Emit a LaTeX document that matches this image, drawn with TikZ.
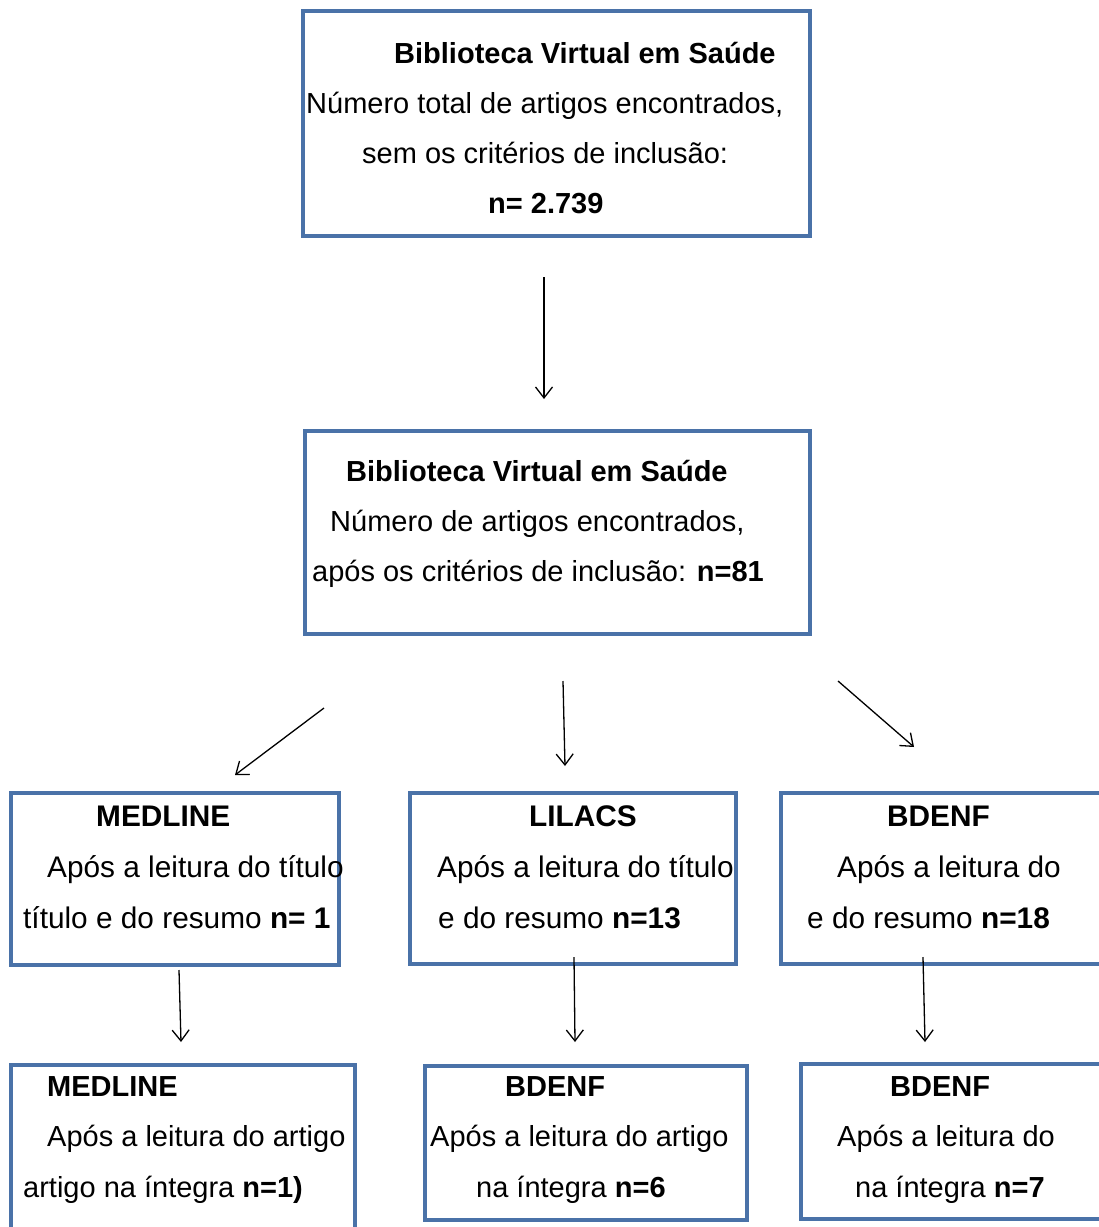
\documentclass[tikz,border=0pt]{standalone}
\usepackage{fontspec}
\setmainfont{Liberation Sans}
\usetikzlibrary{arrows.meta}
\definecolor{boxblue}{RGB}{74,114,168}
\begin{document}
\begin{tikzpicture}[x=1pt,y=-1pt,
  box/.style={draw=boxblue, line width=3.2pt, inner sep=0pt, fill=none},
  txt/.style={anchor=base west, inner sep=0pt, font=\fontsize{29}{35}\selectfont},
  txtb/.style={anchor=base west, inner sep=0pt, font=\fontsize{29.8}{35}\selectfont},
  conn/.style={line width=1.3pt, -{Straight Barb[length=11pt,width=17pt,line width=1.3pt]}}]
\useasboundingbox (0,0) rectangle (1099,1227);
\clip (0,0) rectangle (1099,1227);
\fill[white] (0,0) rectangle (1099,1227);

% boxes
\node[box, minimum width=507pt, minimum height=225pt] (b1) at (556.5,123.5) {};
\node[box, minimum width=505pt, minimum height=203pt] (b2) at (557.5,532.5) {};
\node[box, minimum width=328pt, minimum height=172pt] (m1) at (175,879) {};
\node[box, minimum width=326pt, minimum height=171pt] (l1) at (573,878.5) {};
\node[box, minimum width=329pt, minimum height=171pt] (d1) at (945.5,878.5) {};
\node[box, minimum width=344pt, minimum height=175pt] (m2) at (183,1152.5) {};
\node[box, minimum width=322pt, minimum height=154pt] (d2) at (586,1143) {};
\node[box, minimum width=309pt, minimum height=155pt] (d3) at (955.5,1141.5) {};

% texts box 1
\node[txt] (t11) at (394,63) {\textbf{Biblioteca Virtual em Saúde}};
\node[txt] (t12) at (306,113) {Número total de artigos encontrados,};
\node[txt] (t13) at (362,163) {sem os critérios de inclusão:};
\node[txt] (t14) at (488,213) {\textbf{n= 2.739}};

% texts box 2
\node[txt] (t21) at (346,481) {\textbf{Biblioteca Virtual em Saúde}};
\node[txt] (t22) at (330,531) {Número de artigos encontrados,};
\node[txt] (t23) at (312,581) {após os critérios de inclusão: \textbf{n=81}};

% row 3
\node[txtb] (tm11) at (96,826) {\textbf{MEDLINE}};
\node[txtb] (tm12) at (47,877) {Após a leitura do título};
\node[txtb] (tm13) at (23,928) {título e do resumo \textbf{n= 1}};
\node[txtb] (tl11) at (529,826) {\textbf{LILACS}};
\node[txtb] (tl12) at (437,877) {Após a leitura do título};
\node[txtb] (tl13) at (438,928) {e do resumo \textbf{n=13}};
\node[txtb] (td11) at (887,826) {\textbf{BDENF}};
\node[txtb] (td12) at (837,877) {Após a leitura do};
\node[txtb] (td13) at (807,928) {e do resumo \textbf{n=18}};

% row 4
\node[txt] (tm21) at (47,1096) {\textbf{MEDLINE}};
\node[txt] (tm22) at (47,1146) {Após a leitura do artigo};
\node[txt] (tm23) at (23,1197) {artigo na íntegra \textbf{n=1)}};
\node[txt] (td21) at (505,1096) {\textbf{BDENF}};
\node[txt] (td22) at (430,1146) {Após a leitura do artigo};
\node[txt] (td23) at (476,1197) {na íntegra \textbf{n=6}};
\node[txt] (td31) at (890,1096) {\textbf{BDENF}};
\node[txt] (td32) at (837,1146) {Após a leitura do};
\node[txt] (td33) at (855,1197) {na íntegra \textbf{n=7}};

% connector end points
\coordinate (a1s) at (544,277);  \coordinate (a1e) at (544,399);
\coordinate (a2s) at (324,708);  \coordinate (a2e) at (235,775);
\coordinate (a3s) at (563,681);  \coordinate (a3e) at (565,766);
\coordinate (a4s) at (838,681);  \coordinate (a4e) at (914,747);
\coordinate (a5s) at (179,970);  \coordinate (a5e) at (181,1042);
\coordinate (a6s) at (574,957);  \coordinate (a6e) at (575,1042);
\coordinate (a7s) at (923,957);  \coordinate (a7e) at (925,1042);

\draw[conn] (a1s) -- (a1e);
\draw[conn] (a2s) -- (a2e);
\draw[conn] (a3s) -- (a3e);
\draw[conn] (a4s) -- (a4e);
\draw[conn] (a5s) -- (a5e);
\draw[conn] (a6s) -- (a6e);
\draw[conn] (a7s) -- (a7e);
\end{tikzpicture}
\end{document}
